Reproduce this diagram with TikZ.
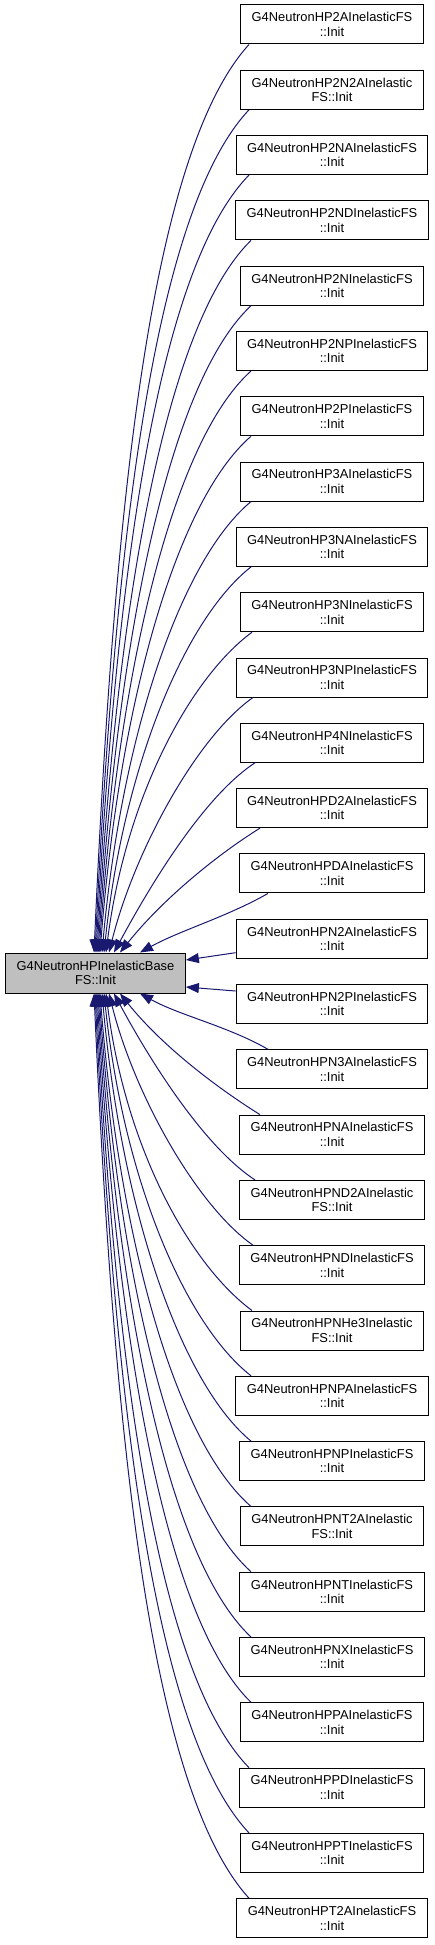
\documentclass[tikz,border=0pt]{standalone}
\usepackage{fontspec}
\setmainfont{Liberation Sans}
\usetikzlibrary{arrows.meta}

\begin{document}
\begin{tikzpicture}[
  x=1pt, y=1pt,
  fnbox/.style={draw=black, line width=1pt, fill=white, align=center,
    inner xsep=11pt, inner ysep=3pt, minimum height=39pt,
    font=\fontsize{12.9}{14.5}\selectfont},
  basebox/.style={fnbox, fill=baseGray, minimum height=40pt},
  call/.style={draw=edgeBlue, line width=1pt,
    -{Triangle[length=13pt, width=10pt]}},
]

%% ── Colours ──────────────────────────────────────────────────────────────────
\definecolor{edgeBlue}{HTML}{191970}
\definecolor{baseGray}{HTML}{BFBFBF}

\useasboundingbox (0,0) rectangle (435,-1945);

%% ── Called function (left) ───────────────────────────────────────────────────
\node[basebox] (base) at (95.5,-973) {G4NeutronHPInelasticBase\\FS::Init};

%% ── Callers (right column) ───────────────────────────────────────────────────
\node[fnbox] (h2A)   at (332,  -24.5) {G4NeutronHP2AInelasticFS\\::Init};
\node[fnbox] (h2N2A) at (332,  -89.8) {G4NeutronHP2N2AInelastic\\FS::Init};
\node[fnbox] (h2NA)  at (332, -155.1) {G4NeutronHP2NAInelasticFS\\::Init};
\node[fnbox] (h2ND)  at (332, -220.4) {G4NeutronHP2NDInelasticFS\\::Init};
\node[fnbox] (h2N)   at (332, -285.7) {G4NeutronHP2NInelasticFS\\::Init};
\node[fnbox] (h2NP)  at (332, -351.0) {G4NeutronHP2NPInelasticFS\\::Init};
\node[fnbox] (h2P)   at (332, -416.3) {G4NeutronHP2PInelasticFS\\::Init};
\node[fnbox] (h3A)   at (332, -481.6) {G4NeutronHP3AInelasticFS\\::Init};
\node[fnbox] (h3NA)  at (332, -546.9) {G4NeutronHP3NAInelasticFS\\::Init};
\node[fnbox] (h3N)   at (332, -612.2) {G4NeutronHP3NInelasticFS\\::Init};
\node[fnbox] (h3NP)  at (332, -677.5) {G4NeutronHP3NPInelasticFS\\::Init};
\node[fnbox] (h4N)   at (332, -742.8) {G4NeutronHP4NInelasticFS\\::Init};
\node[fnbox] (hD2A)  at (332, -808.1) {G4NeutronHPD2AInelasticFS\\::Init};
\node[fnbox] (hDA)   at (332, -873.4) {G4NeutronHPDAInelasticFS\\::Init};
\node[fnbox] (hN2A)  at (332, -938.7) {G4NeutronHPN2AInelasticFS\\::Init};
\node[fnbox] (hN2P)  at (332,-1004.0) {G4NeutronHPN2PInelasticFS\\::Init};
\node[fnbox] (hN3A)  at (332,-1069.3) {G4NeutronHPN3AInelasticFS\\::Init};
\node[fnbox] (hNA)   at (332,-1134.6) {G4NeutronHPNAInelasticFS\\::Init};
\node[fnbox] (hND2A) at (332,-1199.9) {G4NeutronHPND2AInelastic\\FS::Init};
\node[fnbox] (hND)   at (332,-1265.2) {G4NeutronHPNDInelasticFS\\::Init};
\node[fnbox] (hNHe3) at (332,-1330.5) {G4NeutronHPNHe3Inelastic\\FS::Init};
\node[fnbox] (hNPA)  at (332,-1395.8) {G4NeutronHPNPAInelasticFS\\::Init};
\node[fnbox] (hNP)   at (332,-1461.1) {G4NeutronHPNPInelasticFS\\::Init};
\node[fnbox] (hNT2A) at (332,-1526.4) {G4NeutronHPNT2AInelastic\\FS::Init};
\node[fnbox] (hNT)   at (332,-1591.7) {G4NeutronHPNTInelasticFS\\::Init};
\node[fnbox] (hNX)   at (332,-1657.0) {G4NeutronHPNXInelasticFS\\::Init};
\node[fnbox] (hPA)   at (332,-1722.3) {G4NeutronHPPAInelasticFS\\::Init};
\node[fnbox] (hPD)   at (332,-1787.6) {G4NeutronHPPDInelasticFS\\::Init};
\node[fnbox] (hPT)   at (332,-1852.9) {G4NeutronHPPTInelasticFS\\::Init};
\node[fnbox] (hT2A)  at (332,-1918.2) {G4NeutronHPT2AInelasticFS\\::Init};

%% ── Calls from above (into the top of base) ──────────────────────────────────
\draw[call] ([xshift=-83pt]h2A.south)   .. controls +(-99,-109) and +(20,445) .. ([xshift=-1.5pt]base.north);
\draw[call] ([xshift=-83pt]h2N2A.south) .. controls +(-95,-101) and +(20,413) .. ([xshift=-0.5pt]base.north);
\draw[call] ([xshift=-83pt]h2NA.south)  .. controls +(-91,-93)  and +(20,381) .. ([xshift=0.5pt]base.north);
\draw[call] ([xshift=-81pt]h2ND.south)  .. controls +(-86,-84)  and +(20,349) .. ([xshift=1.5pt]base.north);
\draw[call] ([xshift=-81pt]h2N.south)   .. controls +(-82,-77)  and +(20,317) .. ([xshift=2.5pt]base.north);
\draw[call] ([xshift=-81pt]h2NP.south)  .. controls +(-78,-70)  and +(20,285) .. ([xshift=3.5pt]base.north);
\draw[call] ([xshift=-81pt]h2P.south)   .. controls +(-74,-64)  and +(20,253) .. ([xshift=4.5pt]base.north);
\draw[call] ([xshift=-81pt]h3A.south)   .. controls +(-69,-57)  and +(20,221) .. ([xshift=6.5pt]base.north);
\draw[call] ([xshift=-81pt]h3NA.south)  .. controls +(-65,-51)  and +(20,189) .. ([xshift=8.5pt]base.north);
\draw[call] ([xshift=-80pt]h3N.south)   .. controls +(-61,-45)  and +(20,157) .. ([xshift=10.5pt]base.north);
\draw[call] ([xshift=-79pt]h3NP.south)  .. controls +(-57,-40)  and +(25,100) .. ([xshift=13.5pt]base.north);
\draw[call] ([xshift=-77pt]h4N.south)   .. controls +(-52,-34)  and +(35,65)  .. ([xshift=18.5pt]base.north);
\draw[call] ([xshift=-72pt]hD2A.south)  .. controls +(-48,-30)  and +(40,50)  .. ([xshift=24.5pt]base.north);
\draw[call] ([xshift=-64pt]hDA.south)   .. controls +(-40,-23)  and +(40,22)  .. ([xshift=44.5pt]base.north);

%% ── Straight calls (into the right side of base) ─────────────────────────────
\draw[call] ([yshift=-14pt]hN2A.west) -- ([yshift=13pt]base.east);
\draw[call] ([yshift=13pt]hN2P.west)  -- ([yshift=-14pt]base.east);

%% ── Calls from below (into the bottom of base) ───────────────────────────────
\draw[call] ([xshift=-64pt]hN3A.north)  .. controls +(-40,23)  and +(40,-22)  .. ([xshift=44.5pt]base.south);
\draw[call] ([xshift=-72pt]hNA.north)   .. controls +(-48,30)  and +(40,-50)  .. ([xshift=24.5pt]base.south);
\draw[call] ([xshift=-77pt]hND2A.north) .. controls +(-52,34)  and +(35,-65)  .. ([xshift=18.5pt]base.south);
\draw[call] ([xshift=-79pt]hND.north)   .. controls +(-57,40)  and +(25,-100) .. ([xshift=13.5pt]base.south);
\draw[call] ([xshift=-80pt]hNHe3.north) .. controls +(-61,45)  and +(20,-157) .. ([xshift=10.5pt]base.south);
\draw[call] ([xshift=-81pt]hNPA.north)  .. controls +(-65,51)  and +(20,-189) .. ([xshift=8.5pt]base.south);
\draw[call] ([xshift=-81pt]hNP.north)   .. controls +(-69,57)  and +(20,-221) .. ([xshift=6.5pt]base.south);
\draw[call] ([xshift=-81pt]hNT2A.north) .. controls +(-74,64)  and +(20,-253) .. ([xshift=4.5pt]base.south);
\draw[call] ([xshift=-81pt]hNT.north)   .. controls +(-78,70)  and +(20,-285) .. ([xshift=3.5pt]base.south);
\draw[call] ([xshift=-81pt]hNX.north)   .. controls +(-82,77)  and +(20,-317) .. ([xshift=2.5pt]base.south);
\draw[call] ([xshift=-81pt]hPA.north)   .. controls +(-86,84)  and +(20,-349) .. ([xshift=1.5pt]base.south);
\draw[call] ([xshift=-83pt]hPD.north)   .. controls +(-91,93)  and +(20,-381) .. ([xshift=0.5pt]base.south);
\draw[call] ([xshift=-83pt]hPT.north)   .. controls +(-95,101) and +(20,-413) .. ([xshift=-0.5pt]base.south);
\draw[call] ([xshift=-83pt]hT2A.north)  .. controls +(-99,109) and +(20,-445) .. ([xshift=-1.5pt]base.south);

\end{tikzpicture}
\end{document}
